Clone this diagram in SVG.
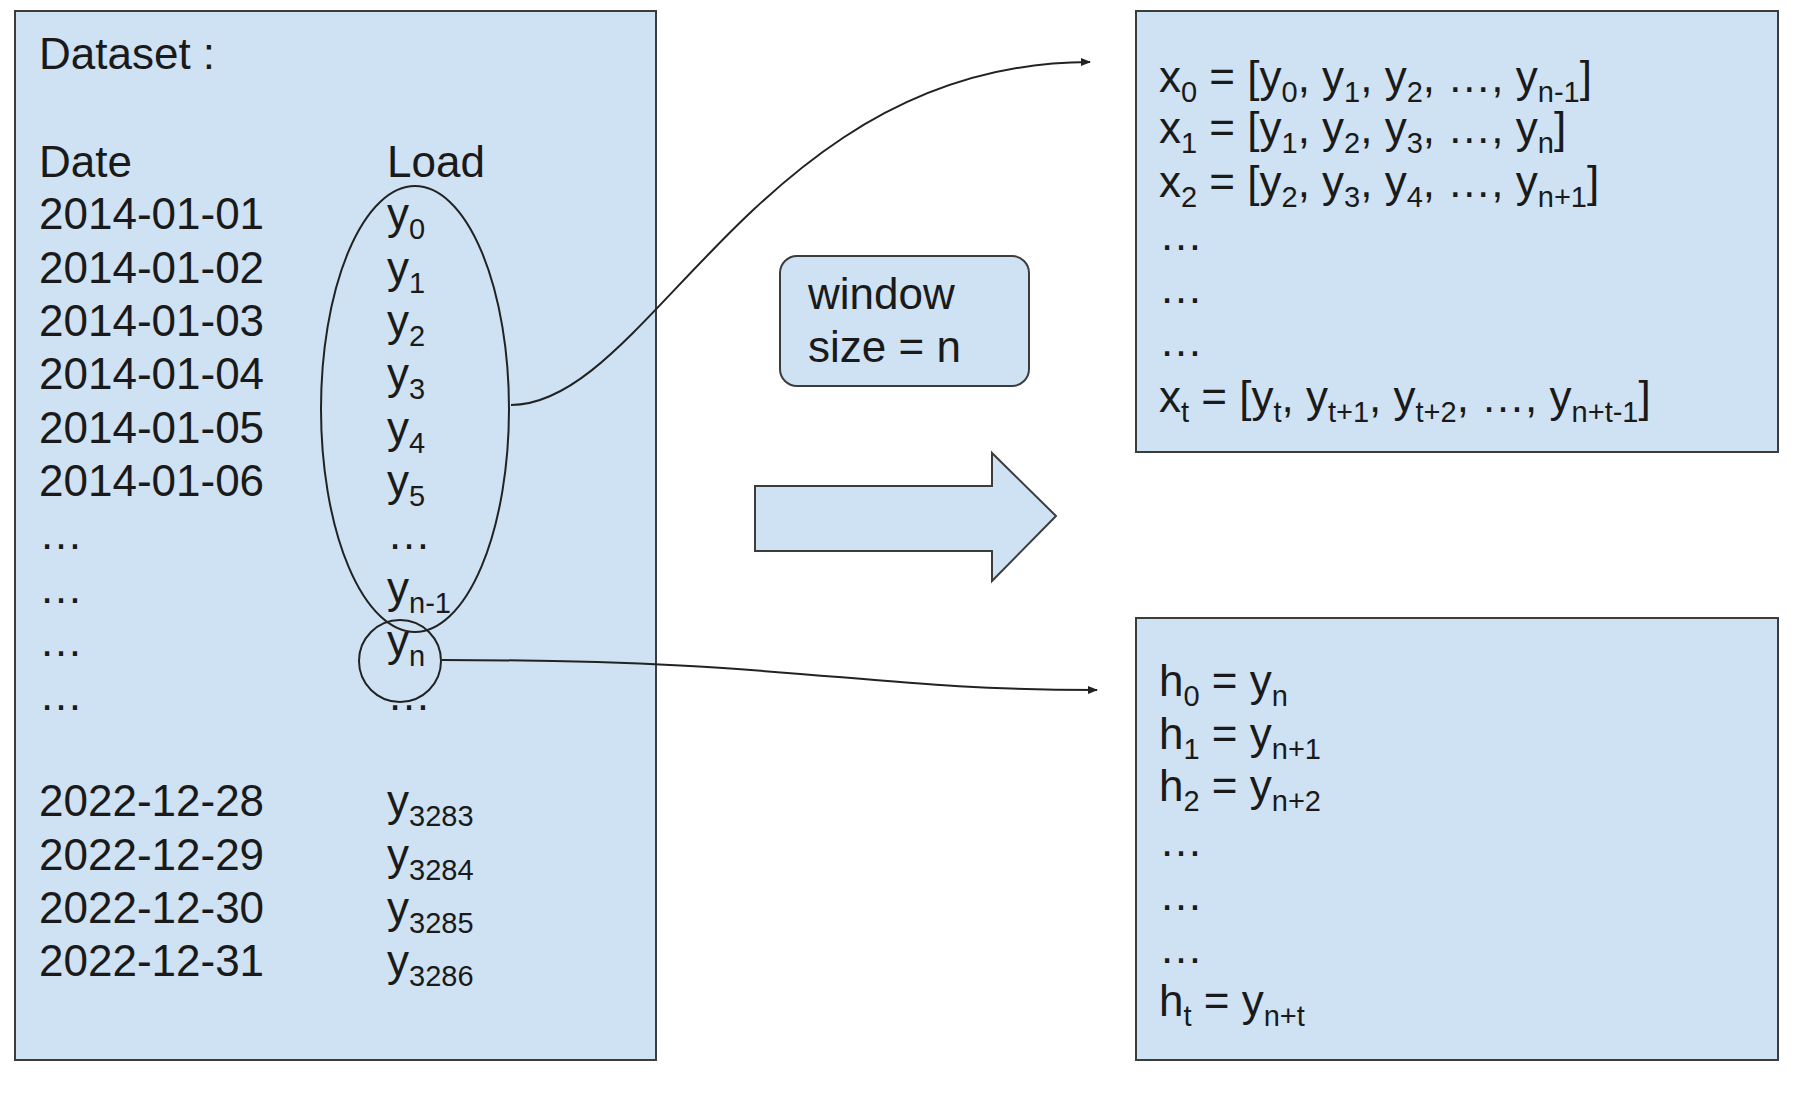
<svg xmlns="http://www.w3.org/2000/svg" width="1796" height="1093" viewBox="0 0 1796 1093">
<style>
.box{fill:#cfe2f3;stroke:#3c3c3c;stroke-width:2}
text{font-family:"Liberation Sans",Arial,sans-serif;font-size:44px;fill:#1a1a1a}
.s{font-size:29px}
.ln{fill:none;stroke:#222;stroke-width:2}
</style>
<defs><marker id="ah" markerWidth="10" markerHeight="10" refX="9" refY="5" orient="auto" markerUnits="userSpaceOnUse"><path d="M0,1 L10,5 L0,9 z" fill="#222"/></marker></defs>
<rect width="1796" height="1093" fill="#fff"/>
<g id="dataset">
<rect class="box" x="15" y="11" width="641" height="1049"/>
<text x="39" y="69">Dataset :</text>
<text x="39" y="177">Date</text>
<text x="387" y="177">Load</text>
<text x="39" y="229">2014-01-01</text>
<text x="39" y="283">2014-01-02</text>
<text x="39" y="336">2014-01-03</text>
<text x="39" y="389">2014-01-04</text>
<text x="39" y="443">2014-01-05</text>
<text x="39" y="496">2014-01-06</text>
<text x="39" y="549">…</text>
<text x="39" y="603">…</text>
<text x="39" y="656">…</text>
<text x="39" y="710">…</text>
<text x="39" y="816">2022-12-28</text>
<text x="39" y="870">2022-12-29</text>
<text x="39" y="923">2022-12-30</text>
<text x="39" y="976">2022-12-31</text>
<text x="387" y="229">y<tspan class="s" dy="10">0</tspan></text>
<text x="387" y="283">y<tspan class="s" dy="10">1</tspan></text>
<text x="387" y="336">y<tspan class="s" dy="10">2</tspan></text>
<text x="387" y="389">y<tspan class="s" dy="10">3</tspan></text>
<text x="387" y="443">y<tspan class="s" dy="10">4</tspan></text>
<text x="387" y="496">y<tspan class="s" dy="10">5</tspan></text>
<text x="387" y="549">…</text>
<text x="387" y="603">y<tspan class="s" dy="10">n-1</tspan></text>
<text x="387" y="656">y<tspan class="s" dy="10">n</tspan></text>
<text x="387" y="710">…</text>
<text x="387" y="816">y<tspan class="s" dy="10">3283</tspan></text>
<text x="387" y="870">y<tspan class="s" dy="10">3284</tspan></text>
<text x="387" y="923">y<tspan class="s" dy="10">3285</tspan></text>
<text x="387" y="976">y<tspan class="s" dy="10">3286</tspan></text>
<ellipse class="ln" cx="415" cy="409" rx="94" ry="223"/>
<circle class="ln" cx="400" cy="661" r="41"/>
</g>
<g id="inputs">
<rect class="box" x="1136" y="11" width="642" height="441"/>
<text x="1159" y="92">x<tspan class="s" dy="10">0</tspan><tspan dy="-10"> = [y</tspan><tspan class="s" dy="10">0</tspan><tspan dy="-10">, y</tspan><tspan class="s" dy="10">1</tspan><tspan dy="-10">, y</tspan><tspan class="s" dy="10">2</tspan><tspan dy="-10">, …, y</tspan><tspan class="s" dy="10">n-1</tspan><tspan dy="-10">]</tspan></text>
<text x="1159" y="143">x<tspan class="s" dy="10">1</tspan><tspan dy="-10"> = [y</tspan><tspan class="s" dy="10">1</tspan><tspan dy="-10">, y</tspan><tspan class="s" dy="10">2</tspan><tspan dy="-10">, y</tspan><tspan class="s" dy="10">3</tspan><tspan dy="-10">, …, y</tspan><tspan class="s" dy="10">n</tspan><tspan dy="-10">]</tspan></text>
<text x="1159" y="197">x<tspan class="s" dy="10">2</tspan><tspan dy="-10"> = [y</tspan><tspan class="s" dy="10">2</tspan><tspan dy="-10">, y</tspan><tspan class="s" dy="10">3</tspan><tspan dy="-10">, y</tspan><tspan class="s" dy="10">4</tspan><tspan dy="-10">, …, y</tspan><tspan class="s" dy="10">n+1</tspan><tspan dy="-10">]</tspan></text>
<text x="1159" y="250">…</text>
<text x="1159" y="303">…</text>
<text x="1159" y="356">…</text>
<text x="1159" y="412">x<tspan class="s" dy="10">t</tspan><tspan dy="-10"> = [y</tspan><tspan class="s" dy="10">t</tspan><tspan dy="-10">, y</tspan><tspan class="s" dy="10">t+1</tspan><tspan dy="-10">, y</tspan><tspan class="s" dy="10">t+2</tspan><tspan dy="-10">, …, y</tspan><tspan class="s" dy="10">n+t-1</tspan><tspan dy="-10">]</tspan></text>
</g>
<g id="targets">
<rect class="box" x="1136" y="618" width="642" height="442"/>
<text x="1159" y="696">h<tspan class="s" dy="10">0</tspan><tspan dy="-10"> = y</tspan><tspan class="s" dy="10">n</tspan></text>
<text x="1159" y="749">h<tspan class="s" dy="10">1</tspan><tspan dy="-10"> = y</tspan><tspan class="s" dy="10">n+1</tspan></text>
<text x="1159" y="801">h<tspan class="s" dy="10">2</tspan><tspan dy="-10"> = y</tspan><tspan class="s" dy="10">n+2</tspan></text>
<text x="1159" y="856">…</text>
<text x="1159" y="910">…</text>
<text x="1159" y="963">…</text>
<text x="1159" y="1016">h<tspan class="s" dy="10">t</tspan><tspan dy="-10"> = y</tspan><tspan class="s" dy="10">n+t</tspan></text>
</g>
<g id="window">
<rect class="box" x="780" y="256" width="249" height="130" rx="17"/>
<text x="808" y="309">window</text>
<text x="808" y="362">size = n</text>
</g>
<g id="bigarrow">
<path class="box" d="M755,486 L992,486 L992,453 L1056,516 L992,581 L992,551 L755,551 z"/>
</g>
<g id="connectors">
<path class="ln" d="M511,405 C650,405 760,62 1090,62" marker-end="url(#ah)"/>
<path class="ln" d="M442,660 C800,660 860,690 1097,690" marker-end="url(#ah)"/>
</g>
</svg>
